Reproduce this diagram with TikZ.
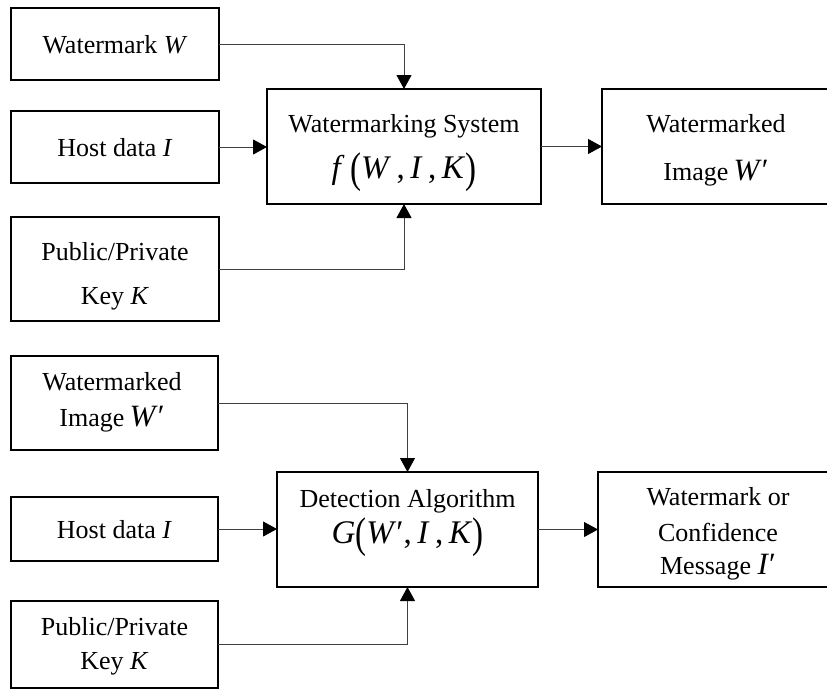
\documentclass[tikz,border=0pt]{standalone}
\usepackage{fontspec}
\usepackage{graphicx}
\setmainfont{Liberation Serif}
\usetikzlibrary{arrows.meta}

% stretched parentheses for the function labels
\newcommand{\tallparen}[1]{\raisebox{-0.14em}{\scalebox{1}[1.3]{#1}}}
\newcommand{\bigmath}{\fontsize{33}{38}\selectfont}
\newcommand{\midmath}{\fontsize{31}{34}\selectfont}

\begin{document}
\begin{tikzpicture}[x=1pt,y=-1pt,
  box/.style={draw, line width=1.8pt, rectangle, inner sep=0pt, outer sep=0pt},
  txt/.style={align=center, inner sep=0pt, font=\fontsize{26}{31}\selectfont},
  conn/.style={draw=black!75, line width=0.9pt,
    -{Triangle[width=15pt,length=14pt,color=black]}}]
\useasboundingbox (0,0) rectangle (827,689);
\clip (0,0) rectangle (827,689);

% embedding stage
\node[box, minimum width=208pt, minimum height=72pt] (wm) at (115,44) {};
\node[box, minimum width=208pt, minimum height=72pt] (host) at (115,147) {};
\node[box, minimum width=208pt, minimum height=104pt] (key) at (115,269) {};
\node[box, minimum width=274pt, minimum height=115pt] (sys) at (404,146.5) {};
\node[box, minimum width=236pt, minimum height=115pt] (out1) at (720,146.5) {};

\node[txt] (wmt) at (115,45) {Watermark \textit{W}};
\node[txt] (hostt) at (115,148) {Host data \textit{I}};
\node[txt] (keyt) at (115,276.5) {Public/Private\\[13pt]Key \textit{K}};
\node[txt] (syst) at (404,153)
  {Watermarking System\\[15pt]{\bigmath\textit{f}\,\tallparen{(}\textit{W}\,,\,\textit{I}\,,\,\textit{K}\tallparen{)}}};
\node[txt] (out1t) at (716,150)
  {Watermarked\\[17pt]Image{\midmath\,\textit{W}′}};

\draw[conn] (wm.east) -| (sys.north);
\draw[conn] (host.east) -- (host.east -| sys.west);
\draw[conn] (key.east) -| (sys.south);
\draw[conn] (sys.east) -- (sys.east -| out1.west);

% detection stage
\node[box, minimum width=207pt, minimum height=94pt] (wm2) at (114.5,403) {};
\node[box, minimum width=207pt, minimum height=64pt] (host2) at (114.5,529) {};
\node[box, minimum width=207pt, minimum height=87pt] (key2) at (114.5,644.5) {};
\node[box, minimum width=261pt, minimum height=115pt] (det) at (407.5,529.5) {};
\node[box, minimum width=240pt, minimum height=115pt] (out2) at (718,529.5) {};

\node[txt] (wm2t) at (112,402) {Watermarked\\[5pt]Image{\midmath\,\textit{W}′}};
\node[txt] (host2t) at (114.5,530) {Host data \textit{I}};
\node[txt] (key2t) at (114.5,646) {Public/Private\\[3pt]Key \textit{K}};
\node[txt] (dett) at (407.5,523)
  {Detection Algorithm\\[5pt]{\bigmath\textit{G}\tallparen{(}\textit{W}′,\,\textit{I}\,,\,\textit{K}\tallparen{)}}};
\node[txt] (out2t) at (718,534)
  {Watermark or\\[5pt]Confidence\\[2pt]Message {\midmath\textit{I}′}};

\draw[conn] (wm2.east) -| (det.north);
\draw[conn] (host2.east) -- (host2.east -| det.west);
\draw[conn] (key2.east) -| (det.south);
\draw[conn] (det.east) -- (det.east -| out2.west);
\end{tikzpicture}
\end{document}
